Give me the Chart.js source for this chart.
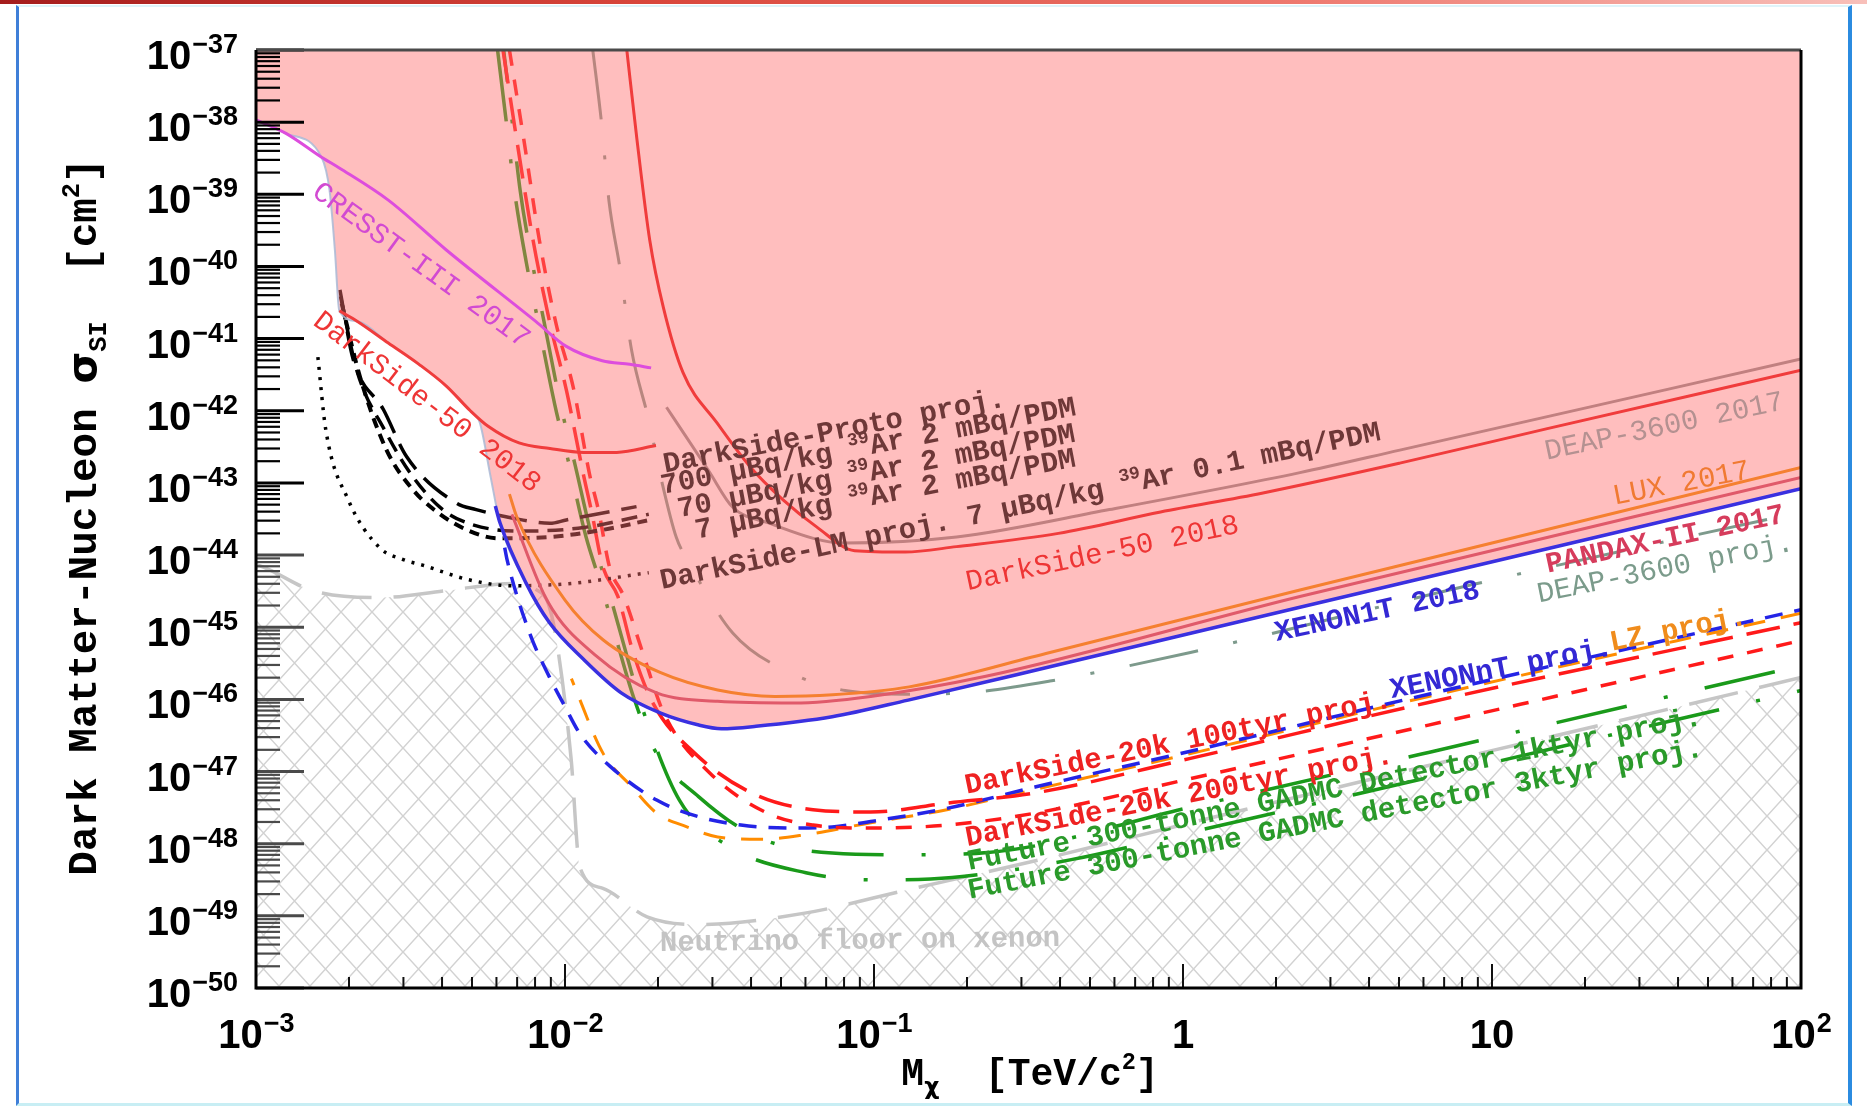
<!DOCTYPE html>
<html>
<head>
<meta charset="utf-8">
<title>Dark Matter-Nucleon SI limits</title>
<script src="https://cdn.jsdelivr.net/npm/chart.js@4.4.1/dist/chart.umd.min.js"></script>
<style>
    html, body { margin: 0; padding: 0; background: #fff; }
    #wrap { position: relative; width: 1867px; height: 1109px; overflow: hidden; }
    #chart { position: absolute; left: 0; top: 0; }
    .topbar {
        position: absolute; left: 0; top: 0; width: 1867px; height: 4px;
        background: linear-gradient(to right, #a51d1d, #d9473c 35%, #ee7a70 70%, #f8c0ba);
    }
    .slide {
        position: absolute; left: 16px; top: 5px; width: 1836px; height: 1101px;
        box-sizing: border-box; pointer-events: none;
        border-left: 3px solid #3f7fd8; border-right: 4px solid #2b8be0;
        border-top: 2px solid #dff4fa; border-bottom: 3px solid #c8eef4;
    }
</style>
</head>
<body>
<div id="wrap">
    <canvas id="chart" width="1867" height="1109"></canvas>
    <div class="slide"></div>
    <div class="topbar"></div>
</div>
<script>
// ---- axis ticks ----
const yTickValues = [1e-37, 1e-38, 1e-39, 1e-40, 1e-41, 1e-42, 1e-43, 1e-44, 1e-45, 1e-46, 1e-47, 1e-48, 1e-49, 1e-50];
const yTickExponents = ['−37', '−38', '−39', '−40', '−41', '−42', '−43', '−44', '−45', '−46', '−47', '−48', '−49', '−50'];
const xTickValues = [1e-3, 1e-2, 1e-1, 1, 10, 100];
const xTickBases = ['10', '10', '10', '1', '10', '10'];
const xTickExponents = ['−3', '−2', '−1', '', '', '2'];

// ---- limits (mass in TeV/c^2, cross section in cm^2) ----
const cresstMass = [1.0e-3, 1.25e-3, 1.63e-3, 1.86e-3, 2.68e-3, 4.13e-3, 8.04e-3, 1.01e-2, 1.32e-2, 1.62e-2, 1.9e-2];
const cresstSigma = [1.08e-38, 7.0e-39, 3.27e-39, 2.32e-39, 8.3e-40, 1.69e-40, 1.73e-41, 7.8e-42, 4.93e-42, 4.4e-42, 3.93e-42];

const ds50LowMass = [1.86e-3, 2.13e-3, 2.68e-3, 3.37e-3, 4.13e-3, 4.94e-3, 5.64e-3, 7.1e-3, 8.94e-3, 1.15e-2, 1.47e-2, 1.97e-2];
const ds50LowSigma = [2.43e-41, 1.73e-41, 8.7e-42, 4.4e-42, 2.2e-42, 1.0e-42, 6.1e-43, 3.58e-43, 3.0e-43, 2.65e-43, 2.65e-43, 3.3e-43];

const ds50Mass = [1.585e-2, 1.71e-2, 1.88e-2, 2.08e-2, 2.41e-2, 3.1e-2, 3.97e-2, 5.09e-2, 6.52e-2, 8.66e-2, 0.126, 0.185, 0.395, 0.846, 1.815, 5.03, 15.1, 100];
const ds50Sigma = [1e-37, 5.68e-39, 2.33e-40, 2.73e-41, 3.37e-42, 6.84e-43, 1.68e-43, 5.79e-44, 2.46e-44, 1.15e-44, 1.10e-44, 1.31e-44, 2.0e-44, 3.95e-44, 7.26e-44, 1.88e-43, 5.65e-43, 3.64e-42];

const deapMass = [2.13e-2, 2.44e-2, 2.91e-2, 3.49e-2, 4.53e-2, 8.03e-2, 0.185, 0.578, 2.39, 5.03, 100];
const deapSigma = [1.12e-42, 4.68e-43, 1.5e-43, 4.6e-44, 2.81e-44, 1.47e-44, 1.78e-44, 4.27e-44, 1.39e-43, 2.85e-43, 5.22e-42];

const xenon1tMass = [5.95e-3, 6.16e-3, 7.49e-3, 8.9e-3, 1.15e-2, 1.52e-2, 2.04e-2, 2.71e-2, 3.21e-2, 4.15e-2, 7.32e-2, 0.129, 0.371, 2.39, 100];
const xenon1tSigma = [4.8e-44, 2.8e-44, 4.05e-45, 1.16e-45, 3.56e-46, 1.23e-46, 6.44e-47, 4.41e-47, 3.93e-47, 4.24e-47, 5.74e-47, 9.77e-47, 2.83e-46, 1.89e-45, 8.3e-44];

const luxMass = [6.61e-3, 6.98e-3, 1.0e-2, 1.33e-2, 2.04e-2, 3.12e-2, 4.78e-2, 7.35e-2, 0.13, 0.371, 2.39, 100];
const luxSigma = [7.0e-44, 3.4e-44, 2.38e-45, 6.66e-46, 2.34e-46, 1.35e-46, 1.1e-46, 1.16e-46, 1.49e-46, 4.47e-46, 3.28e-45, 1.64e-43];

const pandaxMass = [6.73e-3, 8.78e-3, 1.25e-2, 1.98e-2, 3.12e-2, 5.51e-2, 9.76e-2, 0.23, 2.39, 100];
const pandaxSigma = [3.67e-44, 2.29e-45, 4.14e-46, 1.23e-46, 9.4e-47, 8.9e-47, 1.1e-46, 2.09e-46, 2.67e-45, 1.19e-43];

// envelope of the excluded (pink) region
const regionMass = [1.0e-3, 1.25e-3, 1.63e-3, 1.73e-3, 1.8e-3, 1.86e-3, 2.13e-3, 2.68e-3, 3.37e-3, 4.13e-3, 4.94e-3, 5.3e-3, 5.74e-3, 6.16e-3, 7.49e-3, 8.9e-3, 1.15e-2, 1.52e-2, 2.04e-2, 2.71e-2, 3.21e-2, 4.15e-2, 7.32e-2, 0.129, 0.371, 2.39, 100];
const regionSigma = [1.08e-38, 7.0e-39, 3.27e-39, 1.13e-39, 1.69e-40, 2.43e-41, 1.73e-41, 8.7e-42, 4.4e-42, 2.2e-42, 1.0e-42, 6.84e-43, 1.24e-43, 2.8e-44, 4.05e-45, 1.16e-45, 3.56e-46, 1.23e-46, 6.44e-47, 4.41e-47, 3.93e-47, 4.24e-47, 5.74e-47, 9.77e-47, 2.83e-46, 1.89e-45, 8.3e-44];

// ---- projections ----
const deapProjMass = [1.23e-2, 1.31e-2, 1.388e-2, 1.51e-2, 1.642e-2, 1.867e-2, 2.06e-2, 2.29e-2, 2.525e-2, 3.49e-2, 5.37e-2, 8.07e-2, 0.1257, 0.216, 0.371, 1.057, 8.65, 100];
const deapProjSigma = [1e-37, 1.063e-38, 8.02e-40, 8.85e-41, 6.94e-42, 7.38e-43, 1.02e-43, 1.78e-44, 7.72e-45, 8.33e-46, 2.34e-46, 1.325e-46, 1.18e-46, 1.275e-46, 1.795e-46, 4.47e-46, 3.9e-45, 3.96e-44];

const dsProto700Mass = [1.869e-3, 2.064e-3, 2.584e-3, 3.07e-3, 4.46e-3, 5.16e-3, 6.73e-3, 8.94e-3, 1.01e-2, 1.704e-2];
const dsProto700Sigma = [4.73e-41, 5.12e-42, 1.04e-42, 2.32e-43, 5.22e-44, 4.27e-44, 3.27e-44, 2.76e-44, 3.07e-44, 4.69e-44];
const dsProto70Mass = [1.877e-3, 2.125e-3, 2.618e-3, 3.17e-3, 4.02e-3, 5.07e-3, 7.36e-3, 1.15e-2, 1.867e-2];
const dsProto70Sigma = [3.84e-41, 3.5e-42, 5.24e-43, 1.335e-43, 4.27e-44, 2.6e-44, 2.15e-44, 2.41e-44, 3.67e-44];
const dsProto7Mass = [1.894e-3, 2.17e-3, 2.646e-3, 3.225e-3, 3.84e-3, 4.81e-3, 6.08e-3, 9.16e-3, 1.329e-2, 1.93e-2];
const dsProto7Sigma = [3.06e-41, 2.96e-42, 2.85e-43, 7.99e-44, 4.0e-44, 2.24e-44, 1.71e-44, 1.8e-44, 2.24e-44, 3.15e-44];

const dsLMMass = [1.586e-3, 1.68e-3, 1.99e-3, 2.51e-3, 2.996e-3, 3.49e-3, 4.89e-3, 6.79e-3, 1.049e-2, 1.867e-2];
const dsLMSigma = [5.53e-42, 5.65e-43, 5.79e-44, 1.27e-44, 8.65e-45, 7.16e-45, 4.54e-45, 3.75e-45, 4.05e-45, 5.7e-45];

const ds20k100Mass = [6.3e-3, 6.98e-3, 7.88e-3, 8.94e-3, 1.01e-2, 1.145e-2, 1.22e-2, 1.326e-2, 1.483e-2, 1.664e-2, 1.926e-2, 2.627e-2, 4.02e-2, 6.35e-2, 9.76e-2, 0.172, 0.332, 1.057, 6.23, 100];
const ds20k100Sigma = [1e-37, 5.68e-39, 2.33e-40, 1.63e-41, 1.945e-42, 1.36e-43, 3.96e-44, 6.89e-45, 2.67e-45, 4.39e-46, 8.89e-47, 1.8e-47, 5.05e-48, 2.96e-48, 2.75e-48, 3.65e-48, 5.05e-48, 1.52e-47, 9.06e-47, 1.155e-45];
const ds20k200Mass = [6.61e-3, 7.36e-3, 8.26e-3, 9.35e-3, 1.068e-2, 1.199e-2, 1.287e-2, 1.393e-2, 1.55e-2, 1.786e-2, 2.088e-2, 2.935e-2, 4.52e-2, 6.35e-2, 9.76e-2, 0.172, 0.332, 1.057, 6.23, 100];
const ds20k200Sigma = [1e-37, 5.68e-39, 2.33e-40, 1.63e-41, 1.945e-42, 1.36e-43, 3.96e-44, 6.89e-45, 2.67e-45, 4.39e-46, 6.44e-47, 9.63e-48, 2.65e-48, 1.81e-48, 1.645e-48, 1.81e-48, 2.65e-48, 7.96e-48, 4.4e-47, 6.53e-46];

const xenonNTMass = [6.38e-3, 6.5e-3, 7.69e-3, 8.9e-3, 1.0e-2, 1.116e-2, 1.406e-2, 1.98e-2, 2.71e-2, 3.71e-2, 5.51e-2, 7.32e-2, 9.76e-2, 0.172, 0.332, 1.057, 6.23, 100];
const xenonNTSigma = [1.27e-44, 8.49e-45, 8.21e-46, 2.05e-46, 7.93e-47, 3.37e-47, 1.16e-47, 4.02e-48, 2.36e-48, 1.81e-48, 1.645e-48, 1.71e-48, 2.03e-48, 3.08e-48, 6.1e-48, 1.91e-47, 1.18e-46, 1.75e-45];

const lzMass = [1.049e-2, 1.087e-2, 1.327e-2, 1.634e-2, 1.98e-2, 2.48e-2, 3.12e-2, 4.34e-2, 6.02e-2, 9.76e-2, 0.172, 0.332, 1.057, 6.23, 100];
const lzSigma = [1.94e-46, 1.325e-46, 1.8e-47, 6.34e-48, 2.65e-48, 1.71e-48, 1.24e-48, 1.15e-48, 1.335e-48, 1.95e-48, 2.96e-48, 5.65e-48, 1.77e-47, 1.096e-46, 1.565e-45];

const gadmc1Mass = [6.05e-3, 6.44e-3, 6.86e-3, 7.49e-3, 8.18e-3, 9.27e-3, 1.031e-2, 1.167e-2, 1.321e-2, 1.496e-2, 1.664e-2, 1.952e-2, 2.705e-2, 4.15e-2, 7.32e-2, 0.1257, 0.234, 1.057, 6.23, 100];
const gadmc1Sigma = [1e-37, 1.104e-38, 1.129e-39, 1.155e-40, 1.73e-41, 1.21e-42, 1.81e-43, 1.85e-44, 3.35e-45, 5.01e-46, 1.096e-46, 1.98e-47, 4.5e-48, 1.26e-48, 7.41e-49, 7.0e-49, 7.55e-49, 3.2e-48, 1.84e-47, 2.94e-46];
const gadmc3Mass = [6.33e-3, 6.73e-3, 7.16e-3, 7.83e-3, 8.55e-3, 9.68e-3, 1.077e-2, 1.22e-2, 1.38e-2, 1.563e-2, 1.754e-2, 2.345e-2, 3.4e-2, 6.02e-2, 0.1002, 0.179, 0.435, 1.057, 6.23, 100];
const gadmc3Sigma = [1e-37, 1.104e-38, 1.129e-39, 1.155e-40, 1.73e-41, 1.21e-42, 1.81e-43, 1.85e-44, 3.35e-45, 5.01e-46, 9.06e-47, 4.02e-48, 9.13e-49, 3.96e-49, 3.15e-49, 3.4e-49, 6.01e-49, 1.44e-48, 8.27e-48, 1.325e-46];

const neutrinoMass = [1e-3, 1.093e-3, 1.524e-3, 2.51e-3, 4.13e-3, 6.79e-3, 8.04e-3, 8.86e-3, 9.48e-3, 1.046e-2, 1.116e-2, 1.32e-2, 1.843e-2, 2.73e-2, 5.97e-2, 0.1276, 0.371, 1.057, 6.23, 36.7, 100];
const neutrinoSigma = [7.43e-45, 6.39e-45, 3.22e-45, 2.57e-45, 3.22e-45, 4.05e-45, 3.35e-45, 2.04e-45, 5.01e-46, 1.54e-47, 4.79e-49, 2.42e-49, 9.7e-50, 7.58e-50, 1.09e-49, 2.28e-49, 6.48e-49, 1.95e-48, 1.21e-47, 7.21e-47, 2.01e-46];

const FONT_MONO = '"Liberation Mono", "Courier New", monospace';
const FONT_SANS = '"Liberation Sans", Arial, sans-serif';
const FONT_GREEK = '"DejaVu Sans", sans-serif';

// curve labels: centre in canvas px, angle in degrees
const curveLabels = [
    { text: 'CRESST-III 2017', x: 422, y: 264, angle: 36, color: '#d24ad2', bold: false },
    { text: 'DarkSide-50 2018', x: 428, y: 401, angle: 37.5, color: '#ee3535', bold: false },
    { text: 'DarkSide-Proto proj.', x: 834, y: 430, angle: -11, color: '#6e3838', bold: true },
    { text: '700 µBq/kg ^{39}Ar 2 mBq/PDM', x: 868, y: 445, angle: -10.8, color: '#6e3838', bold: true },
    { text: '70 µBq/kg ^{39}Ar 2 mBq/PDM', x: 876, y: 470, angle: -10.8, color: '#6e3838', bold: true },
    { text: '7 µBq/kg ^{39}Ar 2 mBq/PDM', x: 885, y: 493, angle: -10.8, color: '#6e3838', bold: true },
    { text: 'DarkSide-LM proj. 7 µBq/kg ^{39}Ar 0.1 mBq/PDM', x: 1020, y: 505, angle: -11.7, color: '#6e3838', bold: true },
    { text: 'DarkSide-50 2018', x: 1102, y: 552, angle: -12, color: '#ee3535', bold: false },
    { text: 'DEAP-3600 2017', x: 1664, y: 425, angle: -12, color: '#b49191', bold: false },
    { text: 'LUX 2017', x: 1681, y: 482, angle: -11, color: '#f07a32', bold: false },
    { text: 'PANDAX-II 2017', x: 1665, y: 538, angle: -12, color: '#d63c5c', bold: true },
    { text: 'DEAP-3600 proj.', x: 1665, y: 567, angle: -11.5, color: '#7b9b8b', bold: false },
    { text: 'XENON1T 2018', x: 1377, y: 610, angle: -12, color: '#3428d4', bold: true },
    { text: 'XENONnT proj.', x: 1501, y: 667, angle: -11, color: '#3428d4', bold: true },
    { text: 'LZ proj.', x: 1678, y: 628, angle: -11, color: '#f08c1c', bold: true },
    { text: 'DarkSide-20k 100tyr proj.', x: 1178, y: 741, angle: -11.5, color: '#ee2222', bold: true },
    { text: 'DarkSide-20k 200tyr proj.', x: 1179, y: 795, angle: -11, color: '#ee2222', bold: true },
    { text: 'Future 300-tonne GADMC Detector 1ktyr proj.', x: 1334, y: 788, angle: -11.2, color: '#2a9a2a', bold: true },
    { text: 'Future 300-tonne GADMC detector 3ktyr proj.', x: 1335, y: 818, angle: -11, color: '#2a9a2a', bold: true },
    { text: 'Neutrino floor on xenon', x: 860, y: 939, angle: -0.7, color: '#c4c4c4', bold: true }
];

// split "a^{b}c_{d}" into plain / superscript / subscript runs,
// with greek letters in runs of their own
function parseRich(str) {
    const parts = [];
    const push = (t, sup, sub) => {
        t.split(/([\u0370-\u03ff]+)/).forEach(s => {
            if (s) parts.push({ t: s, sup: sup, sub: sub, greek: /[\u0370-\u03ff]/.test(s) });
        });
    };
    const re = /([\^_])\{([^}]*)\}/g;
    let last = 0, m;
    while ((m = re.exec(str))) {
        if (m.index > last) push(str.slice(last, m.index), false, false);
        push(m[2], m[1] === '^', m[1] === '_');
        last = re.lastIndex;
    }
    if (last < str.length) push(str.slice(last), false, false);
    return parts;
}

function drawRich(ctx, str, x, y, size, weight, family, align) {
    const parts = parseRich(str);
    const fontOf = p => `${weight} ${(p.sup || p.sub) ? size * 0.62 : size}px ${p.greek ? FONT_GREEK : family}`;
    let width = 0;
    parts.forEach(p => {
        ctx.font = fontOf(p);
        width += ctx.measureText(p.t).width;
    });
    let cx = align === 'center' ? x - width / 2 : align === 'right' ? x - width : x;
    ctx.textAlign = 'left';
    ctx.textBaseline = 'alphabetic';
    parts.forEach(p => {
        ctx.font = fontOf(p);
        const dy = p.sup ? -size * 0.42 : p.sub ? size * 0.24 : 0;
        ctx.fillText(p.t, cx, y + dy);
        cx += ctx.measureText(p.t).width;
    });
}

// frame, ticks, tick labels, axis titles and curve labels
const framePlugin = {
    id: 'frame',
    afterDatasetsDraw(chart) {
        const ctx = chart.ctx;
        const area = chart.chartArea;
        const xs = chart.scales.x, ys = chart.scales.y;
        ctx.save();

        // curve labels
        curveLabels.forEach(l => {
            ctx.save();
            ctx.translate(l.x, l.y);
            ctx.rotate(l.angle * Math.PI / 180);
            ctx.fillStyle = l.color;
            drawRich(ctx, l.text, 0, 29 * 0.33, 29, l.bold ? 'bold' : 'normal', FONT_MONO, 'center');
            ctx.restore();
        });

        // y ticks (major + minor), drawn inward from the left edge
        yTickValues.forEach((v, i) => {
            const py = ys.getPixelForValue(v);
            ctx.strokeStyle = v < 2e-44 ? '#4a4a4a' : '#000';
            ctx.lineWidth = 3;
            ctx.beginPath();
            ctx.moveTo(area.left, py);
            ctx.lineTo(area.left + 48, py);
            ctx.stroke();
            if (i < yTickValues.length - 1) {
                ctx.lineWidth = 2.2;
                for (let m = 2; m <= 9; m++) {
                    const my = ys.getPixelForValue(yTickValues[i + 1] * m);
                    ctx.beginPath();
                    ctx.moveTo(area.left, my);
                    ctx.lineTo(area.left + 24, my);
                    ctx.stroke();
                }
            }
        });

        // x ticks, drawn upward from the bottom edge
        ctx.strokeStyle = '#111';
        xTickValues.forEach((v, i) => {
            const px = xs.getPixelForValue(v);
            ctx.lineWidth = 2;
            ctx.beginPath();
            ctx.moveTo(px, area.bottom);
            ctx.lineTo(px, area.bottom - 24);
            ctx.stroke();
            if (i < xTickValues.length - 1) {
                for (let m = 2; m <= 9; m++) {
                    const mx = xs.getPixelForValue(v * m);
                    ctx.beginPath();
                    ctx.moveTo(mx, area.bottom);
                    ctx.lineTo(mx, area.bottom - 11);
                    ctx.stroke();
                }
            }
        });

        // frame
        ctx.lineWidth = 3;
        ctx.strokeStyle = '#4a4a4a';
        ctx.beginPath();
        ctx.moveTo(area.left, area.top);
        ctx.lineTo(area.right, area.top);
        ctx.stroke();
        ctx.strokeStyle = '#000';
        ctx.beginPath();
        ctx.moveTo(area.right, area.top);
        ctx.lineTo(area.right, area.bottom);
        ctx.lineTo(area.left, area.bottom);
        ctx.lineTo(area.left, area.top);
        ctx.stroke();

        // tick labels
        ctx.fillStyle = '#000';
        ctx.textAlign = 'left';
        ctx.textBaseline = 'alphabetic';
        yTickValues.forEach((v, i) => {
            const py = ys.getPixelForValue(v);
            ctx.font = `bold 27px ${FONT_SANS}`;
            const ew = ctx.measureText(yTickExponents[i]).width;
            ctx.fillText(yTickExponents[i], 238 - ew, py + 3);
            ctx.font = `bold 40px ${FONT_SANS}`;
            const bw = ctx.measureText('10').width;
            ctx.fillText('10', 238 - ew - 1 - bw, py + 19);
        });
        xTickValues.forEach((v, i) => {
            const px = xs.getPixelForValue(v);
            ctx.font = `bold 27px ${FONT_SANS}`;
            const ew = ctx.measureText(xTickExponents[i]).width;
            ctx.font = `bold 40px ${FONT_SANS}`;
            const bw = ctx.measureText(xTickBases[i]).width;
            const x0 = px - (bw + ew) / 2;
            ctx.fillText(xTickBases[i], x0, 1048);
            ctx.font = `bold 27px ${FONT_SANS}`;
            ctx.fillText(xTickExponents[i], x0 + bw + 1, 1032);
        });

        // axis titles
        drawRich(ctx, 'M_{χ}  [TeV/c^{2}]', 1030, 1085, 38, 'bold', FONT_MONO, 'center');
        ctx.save();
        ctx.translate(96, 517);
        ctx.rotate(-Math.PI / 2);
        drawRich(ctx, 'Dark Matter-Nucleon σ_{SI}  [cm^{2}]', 0, 0, 41, 'bold', FONT_MONO, 'center');
        ctx.restore();

        ctx.restore();
    }
};

const canvas = document.getElementById('chart');
const ctx = canvas.getContext('2d');

// cross hatching below the neutrino floor
function makeHatch() {
    const tile = document.createElement('canvas');
    tile.width = 31;
    tile.height = 34;
    const g = tile.getContext('2d');
    g.strokeStyle = '#d2d2d2';
    g.lineWidth = 1.5;
    g.beginPath();
    g.moveTo(0, 0); g.lineTo(31, 34);
    g.moveTo(31, 0); g.lineTo(0, 34);
    g.stroke();
    return ctx.createPattern(tile, 'repeat');
}

function points(mass, sigma) {
    return mass.map((m, i) => ({ x: m, y: sigma[i] }));
}

function curve(label, mass, sigma, color, width, dash, extra) {
    return Object.assign({
        label: label,
        data: points(mass, sigma),
        showLine: true,
        borderColor: color,
        borderWidth: width,
        borderDash: dash || [],
        pointRadius: 0,
        fill: false,
        cubicInterpolationMode: 'monotone'
    }, extra || {});
}

// first dataset is drawn on top; the pink region sits between the
// current limits (above) and the projections (below, tinted by it)
const datasets = [
    curve('CRESST-III 2017', cresstMass, cresstSigma, '#dd4ddd', 3),
    curve('DarkSide-50 2018 low mass', ds50LowMass, ds50LowSigma, '#f03c3c', 3),
    curve('DarkSide-50 2018', ds50Mass, ds50Sigma, '#f03c3c', 3),
    curve('XENON1T 2018', xenon1tMass, xenon1tSigma, '#3a30e0', 3.5),
    curve('PANDAX-II 2017', pandaxMass, pandaxSigma, '#e05a6a', 3),
    curve('LUX 2017', luxMass, luxSigma, '#f58030', 3),
    curve('Excluded', regionMass, regionSigma, 'rgba(170,186,214,0.85)', 2, [], {
        fill: 'end', backgroundColor: 'rgba(255,110,110,0.45)'
    }),
    curve('DEAP-3600 2017', deapMass, deapSigma, '#8e8e8e', 3),
    curve('DEAP-3600 proj.', deapProjMass, deapProjSigma, '#7d9a8c', 3, [70, 36, 4, 36]),
    curve('DarkSide-Proto 700', dsProto700Mass, dsProto700Sigma, '#000', 3.5, [30, 12]),
    curve('DarkSide-Proto 70', dsProto70Mass, dsProto70Sigma, '#000', 3.5, [16, 9]),
    curve('DarkSide-Proto 7', dsProto7Mass, dsProto7Sigma, '#000', 4, [10, 7]),
    curve('DarkSide-LM proj.', dsLMMass, dsLMSigma, '#000', 3.5, [3, 7]),
    curve('DarkSide-20k 100tyr', ds20k100Mass, ds20k100Sigma, '#ff1a1a', 3.5, [34, 14]),
    curve('DarkSide-20k 200tyr', ds20k200Mass, ds20k200Sigma, '#ff1a1a', 3.5, [16, 14]),
    curve('XENONnT proj.', xenonNTMass, xenonNTSigma, '#2424e6', 3.5, [18, 12]),
    curve('LZ proj.', lzMass, lzSigma, '#ff8c00', 3, [22, 16], { borderDashOffset: 15 }),
    curve('GADMC 1ktyr', gadmc1Mass, gadmc1Sigma, '#1a9a1a', 3.5, [72, 38, 4, 38]),
    curve('GADMC 3ktyr', gadmc3Mass, gadmc3Sigma, '#1a9a1a', 3.5, [72, 38, 4, 38], { borderDashOffset: 40 }),
    curve('Neutrino floor on xenon', neutrinoMass, neutrinoSigma, '#c6c6c6', 3.5, [50, 22], {
        fill: 'start', backgroundColor: makeHatch()
    })
];

const chart = new Chart(ctx, {
    type: 'scatter',
    data: { datasets: datasets },
    options: {
        responsive: false,
        animation: false,
        devicePixelRatio: 1,
        events: [],
        layout: { padding: { left: 256, top: 50, right: 66, bottom: 121 } },
        plugins: {
            legend: { display: false },
            tooltip: { enabled: false }
        },
        scales: {
            x: { type: 'logarithmic', min: 1e-3, max: 100, display: false },
            y: { type: 'logarithmic', min: 1e-50, max: 1e-37, display: false }
        }
    },
    plugins: [framePlugin]
});
</script>
</body>
</html>
